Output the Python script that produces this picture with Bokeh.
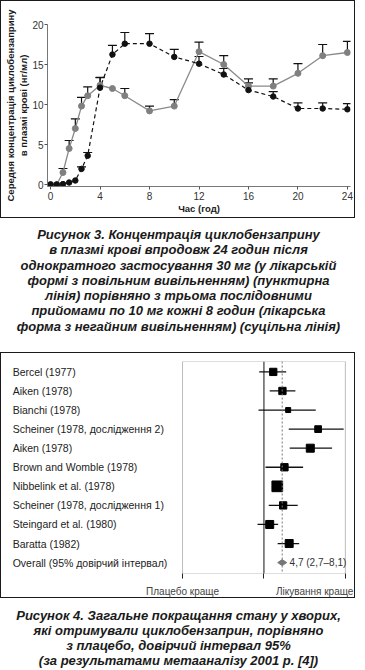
import math
from bokeh.plotting import figure
from bokeh.models import (ColumnDataSource, Whisker, TeeHead, Range1d, FixedTicker,
                          LinearAxis, BoxAnnotation, Span, Div)
from bokeh.layouts import column
from bokeh.embed import file_html
from bokeh.resources import INLINE
from bokeh.core.properties import value

NAN = float("nan")

# ---------------- Figure 3 data ----------------
hours = [0, 0.5, 1, 1.5, 2, 2.5, 3, 4, 5, 6, 8, 10, 12, 14, 16, 18, 20, 22, 24]
ir_mean = [0, 0, 1.5, 4.5, 7.0, 9.8, 11.1, 12.4, 12.0, 11.1, 9.2, 9.8, 16.6, 15.0, 12.3, 12.3, 13.9, 16.1, 16.5]
ir_upper = [NAN, NAN, 2.0, 5.5, 8.2, 10.9, 12.2, 13.35, NAN, 12.0, 9.8, 10.6, 17.8, 16.1, 13.2, 13.2, 15.1, 17.5, 17.9]
er_mean = [0, 0, 0.05, 0.25, 0.5, 1.95, 3.6, 12.1, 16.25, 17.6, 17.6, 15.95, 15.1, 13.75, 11.8, 11.0, 9.5, 9.5, 9.4]
er_upper = [NAN, NAN, NAN, NAN, NAN, 2.2, 4.0, 13.4, 17.4, 19.0, 18.85, 16.9, 16.0, 14.5, 12.7, 11.6, 10.2, 10.2, 10.1]
x_ticks = [0, 4, 8, 12, 16, 20, 24]
y_ticks = [0, 5, 10, 15, 20]

# ---------------- Figure 4 data (odds ratios) ----------------
studies = ["Bercel (1977)", "Aiken (1978)", "Bianchi (1978)", "Scheiner (1978, дослідження 2)",
           "Aiken (1978)", "Brown and Womble (1978)", "Nibbelink et al. (1978)",
           "Scheiner (1978, дослідження 1)", "Steingard et al. (1980)", "Baratta (1982)"]
odds = [2.2, 4.8, 7.8, 99, 51, 5.7, 3.1, 5.1, 1.63, 8.5]
ci_low = [0.67, 1.63, 0.63, 8.2, 8.9, 1.14, 2.0, 1.5, 0.58, 3.2]
ci_high = [6.6, 14.4, 81, 865, 324, 27.7, 4.7, 17.5, 3.33, 19.8]
weights = [7.3, 7.3, 5.0, 6.7, 8.0, 7.3, 10.7, 7.3, 8.0, 8.0]
overall_label = "Overall (95% довірчий інтервал)"
overall_est, overall_lo, overall_hi = 4.7, 2.7, 8.1
or_axis_ticks = [0.001, 1, 1000]
side_labels = ["Плацебо краще", "Лікування краще"]

FONT = "Liberation Sans"

# ================= Figure 3 =================
p1 = figure(width=355, height=218, output_backend="svg", toolbar_location=None,
            x_range=Range1d(-0.25, 24.25), y_range=Range1d(-0.25, 20.0),
            min_border_left=44, min_border_right=6, min_border_top=23, min_border_bottom=33,
            styles={"border": "1px solid #1a1a1a"})
p1.frame_align = False
p1.outline_line_color = None
p1.xgrid.visible = False
p1.ygrid.visible = False

extra_y = LinearAxis(ticker=FixedTicker(ticks=[]), axis_line_color=None,
                     major_tick_line_color=None, minor_tick_line_color=None,
                     major_tick_out=0, major_tick_in=0, major_label_standoff=0,
                     axis_label="Середня концентрація циклобензаприну",
                     axis_label_standoff=0)
p1.add_layout(extra_y, "left")

for ax in (p1.xaxis[0], p1.yaxis[0], extra_y):
    ax.major_label_text_font = FONT
    ax.major_label_text_font_size = "10px"
    ax.major_label_text_color = "#333333"
    ax.axis_label_text_font = FONT
    ax.axis_label_text_font_style = "bold"
    ax.axis_label_text_font_size = "9.5px"
    ax.axis_label_text_color = "#1a1a1a"

for ax in (p1.xaxis[0], p1.yaxis[0]):
    ax.axis_line_color = "#777777"
    ax.major_tick_line_color = "#555555"
    ax.major_tick_in = 0
    ax.major_tick_out = 3
    ax.minor_tick_line_color = None

p1.xaxis[0].ticker = FixedTicker(ticks=x_ticks)
p1.yaxis[0].ticker = FixedTicker(ticks=y_ticks)
p1.xaxis[0].axis_label = "Час (год)"
p1.yaxis[0].axis_label = "в плазмі крові (нг/мл)"
p1.xaxis[0].major_label_standoff = 2
p1.xaxis[0].axis_label_standoff = 0
p1.yaxis[0].major_label_standoff = 1
p1.yaxis[0].axis_label_standoff = 0

src_ir = ColumnDataSource(dict(t=hours, m=ir_mean))
src_er = ColumnDataSource(dict(t=hours, m=er_mean))

p1.line("t", "m", source=src_ir, line_color="#8a8a8a", line_width=1.3)
p1.line("t", "m", source=src_er, line_color="#111111", line_width=1.2, line_dash="4 3")

def whisk(means, uppers):
    t = [h for h, u in zip(hours, uppers) if not math.isnan(u)]
    lo = [m for m, u in zip(means, uppers) if not math.isnan(u)]
    up = [u for u in uppers if not math.isnan(u)]
    return ColumnDataSource(dict(t=t, lo=lo, up=up))

for means, uppers in ((ir_mean, ir_upper), (er_mean, er_upper)):
    w = Whisker(base="t", lower="lo", upper="up", source=whisk(means, uppers),
                dimension="height", line_color="#111111", line_width=1.2,
                upper_head=TeeHead(size=9, line_color="#111111", line_width=1.2),
                lower_head=None)
    p1.add_layout(w)

p1.scatter("t", "m", source=src_ir, size=6, fill_color="#808080", line_color="#808080")
p1.scatter("t", "m", source=src_er, size=5.5, fill_color="#111111", line_color="#111111")

cap_style = ("font-family:'Liberation Sans',Arial,sans-serif;font-weight:bold;font-style:italic;"
             "font-size:13px;text-align:center;color:#1a1a1a;")

cap1 = Div(width=357, height=134, margin=0,
           text=f"<div style=\"{cap_style}line-height:15.3px;padding-top:9px;width:357px\">"
                "Рисунок 3. Концентрація циклобензаприну<br>"
                "в плазмі крові впродовж 24 годин після<br>"
                "однократного застосування 30 мг (у лікарській<br>"
                "формі з повільним вивільненням) (пунктирна<br>"
                "лінія) порівняно з трьома послідовними<br>"
                "прийомами по 10 мг кожні 8 годин (лікарська<br>"
                "форма з негайним вивільненням) (суцільна лінія)</div>")

# ================= Figure 4 (x in log10 of odds ratio) =================
lg = math.log10
rows = list(range(1, len(studies) + 1))
overall_row = len(studies) + 1
ax_lo, ax_mid, ax_hi = (lg(v) for v in or_axis_ticks)
label_x = -9.26          # left edge of the study names (data units)
better_x = 1.87          # centre of "Лікування краще"

p2 = figure(width=355, height=246, output_backend="svg", toolbar_location=None,
            x_range=Range1d(-9.67, 3.41), y_range=Range1d(11.571, 0.4545),
            y_axis_location=None,
            min_border_left=0, min_border_right=0, min_border_top=8, min_border_bottom=22,
            styles={"border": "1px solid #1a1a1a"})
p2.frame_align = False
p2.xgrid.visible = False
p2.ygrid.visible = False
p2.outline_line_color = None

xa = p2.xaxis[0]
xa.ticker = FixedTicker(ticks=[ax_lo, better_x], minor_ticks=[ax_lo, ax_mid, ax_hi])
xa.major_label_overrides = {ax_lo: side_labels[0], better_x: side_labels[1]}
xa.major_tick_line_color = None
xa.major_tick_out = 0
xa.major_tick_in = 0
xa.minor_tick_in = 0
xa.minor_tick_out = 5
xa.minor_tick_line_color = "#222222"
xa.axis_line_color = None
xa.major_label_standoff = 7
xa.major_label_text_font = FONT
xa.major_label_text_font_size = "10px"
xa.major_label_text_color = "#444444"

p2.add_layout(BoxAnnotation(left=ax_lo, right=ax_hi, fill_alpha=0, fill_color=None,
                            line_color="#222222", line_width=1))
p2.add_layout(Span(location=ax_mid, dimension="height", line_color="#111111", line_width=1))
p2.add_layout(Span(location=lg(overall_est), dimension="height", line_color="#777777",
                   line_width=1, line_dash="2 2"))

src_f = ColumnDataSource(dict(row=rows, est=[lg(v) for v in odds], lo=[lg(v) for v in ci_low],
                              hi=[lg(v) for v in ci_high], w=weights))
p2.segment(x0="lo", x1="hi", y0="row", y1="row", source=src_f, line_color="#111111", line_width=1.3)
p2.scatter("est", "row", source=src_f, marker="square", size="w",
           fill_color="#000000", line_color="#000000")
p2.scatter([lg(overall_est)], [overall_row], marker="diamond", size=9, angle=math.pi / 2,
           fill_color="#777777", line_color="#777777")

def fmt(v):
    return str(v).replace(".", ",")

p2.text(x=[lg(overall_hi)], y=[overall_row],
        text=["{} ({}–{})".format(fmt(overall_est), fmt(overall_lo), fmt(overall_hi))],
        x_offset=1, text_baseline="middle", text_align="left", text_font_size="10px",
        text_font=value(FONT), text_color="#333333")

p2.text(x=[label_x] * (len(studies) + 1), y=rows + [overall_row], text=studies + [overall_label],
        text_baseline="middle", text_align="left", text_font_size="10.5px",
        text_font=value(FONT), text_color="#222222")

cap2 = Div(width=357, height=56, margin=0,
           text=f"<div style=\"{cap_style}line-height:15px;padding-top:10px;width:357px\">"
                "Рисунок 4. Загальне покращання стану у хворих,<br>"
                "які отримували циклобензаприн, порівняно<br>"
                "з плацебо, довірчий інтервал 95%<br>"
                "(за результатами метааналізу 2001 р. [4])</div>")

layout = column(p1, cap1, p2, cap2, spacing=0)
open("out.html", "w").write(file_html(layout, INLINE))
